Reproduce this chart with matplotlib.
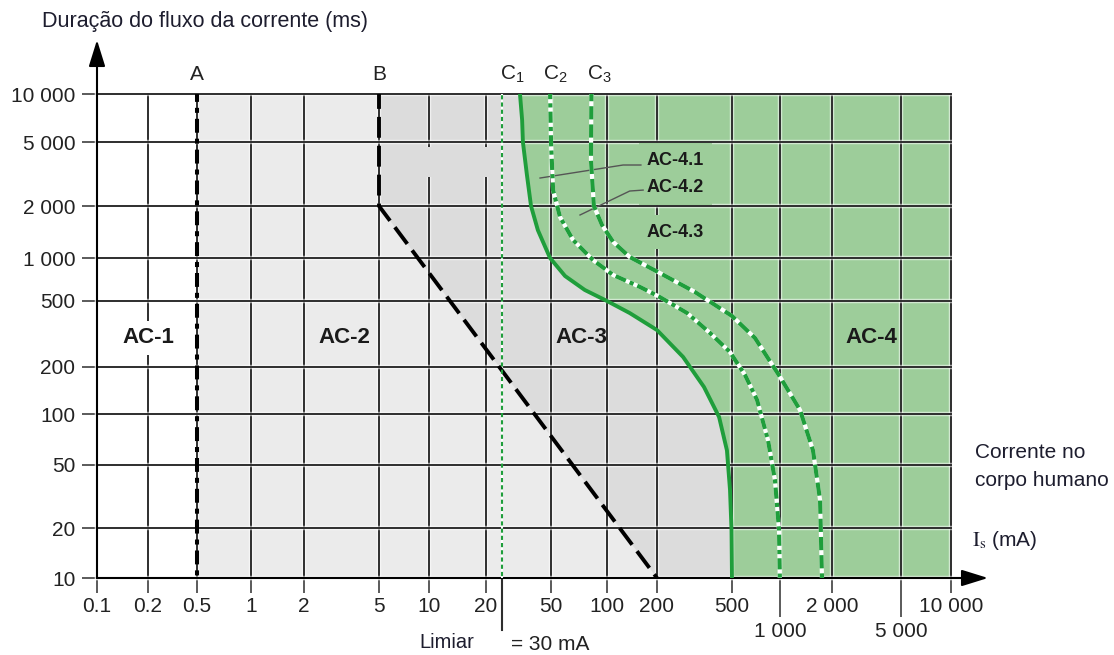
import numpy as np
import matplotlib
matplotlib.use('Agg')
import matplotlib.pyplot as plt
import matplotlib.patheffects as pe
from matplotlib.patches import Rectangle

plt.rcParams['font.family'] = ['Liberation Sans', 'DejaVu Sans']
plt.rcParams['mathtext.fontset'] = 'custom'
plt.rcParams['mathtext.rm'] = 'Liberation Sans'
plt.rcParams['lines.scale_dashes'] = False

# ---- data (mA / ms) ----
x_ticks = [0.1, 0.2, 0.5, 1, 2, 5, 10, 20, 50, 100, 200, 500, 1000, 2000, 5000, 10000]
x_labels = ['0.1', '0.2', '0.5', '1', '2', '5', '10', '20', '50', '100', '200', '500',
            '1 000', '2 000', '5 000', '10 000']
x_low = [1000, 5000]          # these two labels sit on a second row
y_ticks = [10, 20, 50, 100, 200, 500, 1000, 2000, 5000, 10000]
y_labels = ['10', '20', '50', '100', '200', '500', '1 000', '2 000', '5 000', '10 000']

line_a = 0.5
limiar = 30
b_x = [5, 5, 200]
b_y = [10900, 2000, 10]
c1_x = [36, 37, 37.3, 38.9, 40.6, 43.6, 49.5, 59.5, 76, 100, 137, 200, 275, 355, 427, 470, 488, 497, 500]
c1_y = [10900, 6870, 5000, 3120, 2000, 1450, 1000, 748, 597, 500, 423, 334, 230, 149, 96, 61, 34.8, 19.5, 9.3]
c2_x = [49.5, 50, 51.3, 55.9, 65.7, 84, 109, 158, 207, 289, 382, 488, 603, 718, 841, 930, 986, 1000]
c2_y = [10900, 5000, 2510, 1727, 1271, 968, 760, 627, 533, 423, 321, 246, 178, 123, 70, 40, 19.5, 8.8]
c3_x = [82.5, 82, 85, 94, 109, 137, 207, 318, 500, 697, 1000, 1306, 1552, 1706, 1750]
c3_y = [10900, 3864, 2000, 1552, 1238, 1013, 785, 578, 406, 299, 173, 106, 61, 30, 10]

zone_names = ['AC-1', 'AC-2', 'AC-3', 'AC-4']
zone_pos = [(0.2, 300), (3.26, 300), (72.5, 300), (3357, 300)]
sub_names = ['AC-4.1', 'AC-4.2', 'AC-4.3']
sub_pos = [(174, 3860), (174, 2588), (174, 1413)]
lead1_x, lead1_y = [44.6, 125, 160], [2985, 3597, 3597]
lead2_x, lead2_y = [71.6, 137, 165], [1774, 2478, 2512]

# ---- schematic log axes: the drawing spaces decades unevenly ----
XN_V = [0.1, 0.2, 0.5, 1, 2, 5, 10, 20, 30, 50, 100, 200, 500, 1000, 2000, 5000, 10000]
XN_P = [97, 148, 197, 251, 304, 379, 429, 486, 502, 551, 607, 657, 732, 780, 832, 901, 951]
YN_V = [10, 20, 50, 100, 200, 500, 1000, 2000, 5000, 10000]
YN_P = [0, 50, 113, 164, 211, 277, 320, 372, 436, 484]


def _lin(x, xp, fp):
    out = np.interp(x, xp, fp)
    out = np.where(x < xp[0], fp[0] + (x - xp[0]) * (fp[1] - fp[0]) / (xp[1] - xp[0]), out)
    out = np.where(x > xp[-1], fp[-1] + (x - xp[-1]) * (fp[-1] - fp[-2]) / (xp[-1] - xp[-2]), out)
    return out


def make_scale(vals, pos):
    lv = np.log10(vals)
    pos = np.asarray(pos, float)

    def fwd(v):
        l = np.log10(np.clip(np.asarray(v, float), 1e-9, None))
        return _lin(l, lv, pos)

    def inv(p):
        return 10 ** _lin(np.asarray(p, float), pos, lv)
    return fwd, inv


W, H = 1114, 655
AC2, AC3, AC4 = '#ebebeb', '#dcdcdc', '#9dcd9a'
GREEN = '#1f9e3b'
GRID = '#2e2e2e'
TXT = '#1d1d2e'

fig = plt.figure(figsize=(W / 100, H / 100), dpi=100)
ax = fig.add_axes([97 / W, (H - 578) / H, 854 / W, 484 / H])
ax.set_xscale('function', functions=make_scale(XN_V, XN_P))
ax.set_yscale('function', functions=make_scale(YN_V, YN_P))

# zones
ax.fill([line_a, line_a, 20000, 20000], [8, 20000, 20000, 8], color=AC2, lw=0, zorder=1)
ax.fill(b_x + c1_x[::-1], b_y + c1_y[::-1], color=AC3, lw=0, zorder=1)
ax.fill(c1_x + [20000, 20000], c1_y + [c1_y[-1], c1_y[0]], color=AC4, lw=0, zorder=1)

# grid
halo = [pe.Stroke(linewidth=3.2, foreground='white', alpha=0.55), pe.Normal()]
for v in x_ticks:
    ax.axvline(v, color=GRID, lw=1.4, zorder=1.6, path_effects=halo, clip_on=False)
for v in y_ticks:
    ax.axhline(v, color=GRID, lw=1.4, zorder=1.6, path_effects=halo, clip_on=False)

# blank box hiding part of the grid in AC-3
ax.add_patch(Rectangle((6.7, 3030), 25.1 - 6.7, 4650 - 3030, color=AC3, lw=0, zorder=1.7))

# boundary curves
ax.plot([line_a, line_a], [10900, 10], color='k', lw=2.9, ls=(0, (10, 4.3, 3.6, 4.3)),
        solid_capstyle='butt', dash_capstyle='butt', zorder=4)
ax.plot(b_x, b_y, color='k', lw=2.8, ls=(0, (15, 5.8)), dash_capstyle='butt', zorder=4)
ax.plot([limiar, limiar], [10900, 10], color='white', lw=1.5, zorder=3.9)
ax.plot([limiar, limiar], [10900, 10], color=GREEN, lw=1.5, ls=(0, (3, 2.2)), zorder=4)
ax.plot(c1_x, c1_y, color=GREEN, lw=2.8, solid_joinstyle='round', zorder=4)
ax.plot(c2_x, c2_y, color='white', lw=3, zorder=3.9)
ax.plot(c2_x, c2_y, color=GREEN, lw=3, ls=(0, (8, 3, 3, 3)), dash_capstyle='butt', zorder=4)
ax.plot(c3_x, c3_y, color='white', lw=3, zorder=3.9)
ax.plot(c3_x, c3_y, color=GREEN, lw=3, ls=(0, (9.5, 3.6)), dash_capstyle='butt', zorder=4)

# zone labels
for name, (zx, zy), bg in zip(zone_names, zone_pos, ['white', AC2, AC3, AC4]):
    bb = dict(boxstyle='square,pad=0.3', fc=bg, ec='none') if name == 'AC-1' else None
    ax.text(zx, zy, name, ha='center', va='center', fontsize=16, fontweight='bold',
            color='#1a1a1a', bbox=bb, zorder=3)
for name, (sx, sy) in zip(sub_names, sub_pos):
    ax.text(sx, sy, name, ha='left', va='center', fontsize=13, fontweight='bold', color='#1a1a1a',
            bbox=dict(boxstyle='square,pad=0.45', fc=AC4, ec='none'), zorder=3)
ax.plot(lead1_x, lead1_y, color='#555555', lw=1.0, zorder=3.5)
ax.plot(lead2_x, lead2_y, color='#555555', lw=1.0, zorder=3.5)

# axes, ticks
for s in ax.spines.values():
    s.set_visible(False)
ax.set_xlim(0.1, 10000)
ax.set_ylim(10, 10000)
ax.set_xticks([v for v in x_ticks if v not in x_low],
              labels=[l for v, l in zip(x_ticks, x_labels) if v not in x_low])
ax.set_xticks(x_low, labels=[l for v, l in zip(x_ticks, x_labels) if v in x_low], minor=True)
ax.set_yticks(y_ticks, labels=y_labels)
ax.tick_params(which='both', direction='out', width=1.1, color=GRID, labelsize=15, labelcolor='#222222')
ax.tick_params(axis='x', which='major', length=10.5, pad=3)
ax.tick_params(axis='x', which='minor', length=28, pad=4)
ax.tick_params(axis='y', which='major', length=10.5, pad=5)
ax.plot([limiar, limiar], [0, -(630 - 578) / 484], transform=ax.get_xaxis_transform(),
        clip_on=False, color=GRID, lw=1.5)

arrow = dict(arrowstyle='-|>,head_length=0.9,head_width=0.28', color='k', lw=1.5,
             shrinkA=0, shrinkB=0, mutation_scale=18)
ax.annotate('', xy=(0, (578 - 40) / 484), xytext=(0, 0), xycoords='axes fraction',
            arrowprops=arrow, annotation_clip=False)
ax.annotate('', xy=((988 - 97) / 854, 0), xytext=(0, 0), xycoords='axes fraction',
            arrowprops=arrow, annotation_clip=False)


def px(x, y):
    return x / W, 1 - y / H


fig.text(*px(42, 22), 'Duração do fluxo da corrente (ms)', ha='left', va='center', fontsize=15.5, color=TXT)
fig.text(*px(975, 452), 'Corrente no', ha='left', va='center', fontsize=15, color=TXT)
fig.text(*px(975, 481), 'corpo humano', ha='left', va='center', fontsize=15, color=TXT)
fig.text(*px(972, 540), r'$\mathrm{I}_{\mathrm{s}}$ (mA)', ha='left', va='center', fontsize=15,
         color=TXT, math_fontfamily='stix')
fig.text(*px(447, 643), 'Limiar', ha='center', va='center', fontsize=14.5, color=TXT)
fig.text(*px(550, 645), '= 30 mA', ha='center', va='center', fontsize=15, color='#222222')
fig.text(*px(197, 75), 'A', ha='center', va='center', fontsize=15, color='#222222')
fig.text(*px(379, 75), 'B', ha='center', va='center', fontsize=15, color='#222222')
for lab, xl in zip([r'$\mathrm{C}_1$', r'$\mathrm{C}_2$', r'$\mathrm{C}_3$'], [500, 543, 587]):
    fig.text(*px(xl, 79), lab, ha='left', va='baseline', fontsize=15, color='#222222')

fig.savefig('out.png', dpi=100)
